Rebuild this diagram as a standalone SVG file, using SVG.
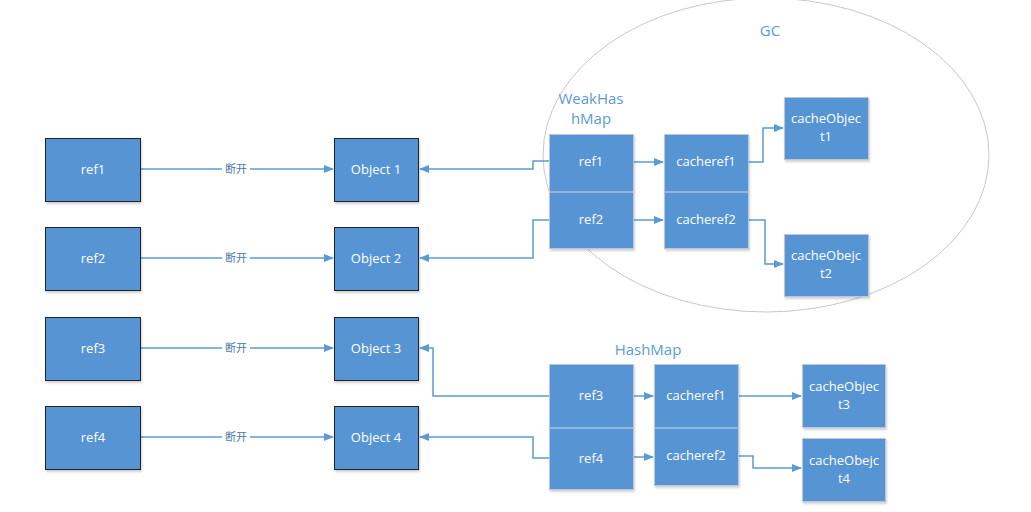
<svg xmlns="http://www.w3.org/2000/svg" width="1031" height="512" viewBox="0 0 1031 512">
<defs>
<style>
.b{fill:#5694d4;stroke:#222;stroke-width:1}
.r{fill:#5694d4;stroke:#b8c8d8;stroke-width:1}
.dv{stroke:#c9d9ea;stroke-width:1}
.t{fill:#fff;font-family:"Open Sans","Noto Sans",sans-serif;font-size:13px;text-anchor:middle}
.h{fill:#5b9bd5;font-family:"Open Sans","Noto Sans",sans-serif;font-size:15px;text-anchor:middle}
.c{fill:none;stroke:#5b9bd5;stroke-width:1.5}
.lb{fill:#4a78a8;font-family:"Noto Sans CJK SC",sans-serif;font-size:11px;text-anchor:middle}
</style>
<marker id="a" markerWidth="10" markerHeight="10" refX="9" refY="5" orient="auto" markerUnits="userSpaceOnUse">
<path d="M0,1 L10,5 L0,9 z" fill="#5b9bd5"/>
</marker>
<filter id="s" x="-10%" y="-10%" width="130%" height="130%"><feDropShadow dx="1" dy="2" stdDeviation="1.2" flood-color="#000" flood-opacity="0.18"/></filter>
</defs>
<rect width="1031" height="512" fill="#fff"/>
<g id="gc">
<ellipse cx="766" cy="155" rx="223" ry="157" fill="none" stroke="#c8c8c8" stroke-width="1"/>
<text class="h" x="770" y="36">GC</text>
</g>
<g id="connectors">
<line class="c" x1="141" y1="169" x2="333" y2="169" marker-end="url(#a)"/>
<line class="c" x1="141" y1="258" x2="333" y2="258" marker-end="url(#a)"/>
<line class="c" x1="141" y1="348" x2="333" y2="348" marker-end="url(#a)"/>
<line class="c" x1="141" y1="437" x2="333" y2="437" marker-end="url(#a)"/>
<polyline class="c" points="549,161 533,161 533,169 420,169" marker-end="url(#a)"/>
<polyline class="c" points="549,220 533,220 533,258 420,258" marker-end="url(#a)"/>
<polyline class="c" points="549,396 433,396 433,348 420,348" marker-end="url(#a)"/>
<polyline class="c" points="549,458 533,458 533,437 420,437" marker-end="url(#a)"/>
<line class="c" x1="633" y1="162" x2="663" y2="162" marker-end="url(#a)"/>
<line class="c" x1="633" y1="220" x2="663" y2="220" marker-end="url(#a)"/>
<polyline class="c" points="748,162 763,162 763,128 783,128" marker-end="url(#a)"/>
<polyline class="c" points="748,220 765,220 765,264 783,264" marker-end="url(#a)"/>
<line class="c" x1="633" y1="457" x2="653" y2="457" marker-end="url(#a)"/>
<line class="c" x1="633" y1="396" x2="653" y2="396" marker-end="url(#a)"/>
<line class="c" x1="738" y1="396" x2="801" y2="396" marker-end="url(#a)"/>
<polyline class="c" points="738,456 753,456 753,468 801,468" marker-end="url(#a)"/>
<g>
<rect x="222" y="162" width="28" height="14" fill="#fff"/>
<text class="lb" x="236" y="173">断开</text>
<rect x="222" y="251" width="28" height="14" fill="#fff"/>
<text class="lb" x="236" y="262">断开</text>
<rect x="222" y="341" width="28" height="14" fill="#fff"/>
<text class="lb" x="236" y="352">断开</text>
<rect x="222" y="430" width="28" height="14" fill="#fff"/>
<text class="lb" x="236" y="441">断开</text>
</g>
</g>
<g id="ref1"><rect class="b" x="45.5" y="138.5" width="95" height="63" filter="url(#s)"/><text class="t" x="93" y="174">ref1</text></g>
<g id="ref2"><rect class="b" x="45.5" y="227.5" width="95" height="63" filter="url(#s)"/><text class="t" x="93" y="263">ref2</text></g>
<g id="ref3"><rect class="b" x="45.5" y="317.5" width="95" height="63" filter="url(#s)"/><text class="t" x="93" y="353">ref3</text></g>
<g id="ref4"><rect class="b" x="45.5" y="406.5" width="95" height="63" filter="url(#s)"/><text class="t" x="93" y="442">ref4</text></g>
<g id="object1"><rect class="b" x="334.5" y="138.5" width="84" height="63" filter="url(#s)"/><text class="t" x="376" y="174">Object 1</text></g>
<g id="object2"><rect class="b" x="334.5" y="227.5" width="84" height="63" filter="url(#s)"/><text class="t" x="376" y="263">Object 2</text></g>
<g id="object3"><rect class="b" x="334.5" y="317.5" width="84" height="63" filter="url(#s)"/><text class="t" x="376" y="353">Object 3</text></g>
<g id="object4"><rect class="b" x="334.5" y="406.5" width="84" height="63" filter="url(#s)"/><text class="t" x="376" y="442">Object 4</text></g>
<g id="weakhashmap">
<text class="h" x="591" y="104">WeakHas</text>
<text class="h" x="591" y="124">hMap</text>
<rect class="r" x="549.5" y="134.5" width="84" height="114" filter="url(#s)"/>
<line class="dv" x1="550" y1="192" x2="633" y2="192"/>
<text class="t" x="591" y="166">ref1</text>
<text class="t" x="591" y="224">ref2</text>
</g>
<g id="weak-cacheref">
<rect class="r" x="664.5" y="134.5" width="84" height="114" filter="url(#s)"/>
<line class="dv" x1="665" y1="192" x2="748" y2="192"/>
<text class="t" x="706" y="166">cacheref1</text>
<text class="t" x="706" y="224">cacheref2</text>
</g>
<g id="cacheObject1"><rect class="r" x="784.5" y="97.5" width="84" height="62" filter="url(#s)"/><text class="t" x="826" y="123">cacheObjec</text><text class="t" x="826" y="141">t1</text></g>
<g id="cacheObject2"><rect class="r" x="784.5" y="234.5" width="84" height="62" filter="url(#s)"/><text class="t" x="826" y="260">cacheObejc</text><text class="t" x="826" y="278">t2</text></g>
<g id="hashmap">
<text class="h" x="648" y="355">HashMap</text>
<rect class="r" x="549.5" y="364.5" width="84" height="125" filter="url(#s)"/>
<line class="dv" x1="550" y1="428" x2="633" y2="428"/>
<text class="t" x="591" y="400">ref3</text>
<text class="t" x="591" y="463">ref4</text>
</g>
<g id="hash-cacheref">
<rect class="r" x="654.5" y="364.5" width="84" height="121" filter="url(#s)"/>
<line class="dv" x1="655" y1="428" x2="738" y2="428"/>
<text class="t" x="696" y="400">cacheref1</text>
<text class="t" x="696" y="460">cacheref2</text>
</g>
<g id="cacheObject3"><rect class="r" x="802.5" y="364.5" width="83" height="63" filter="url(#s)"/><text class="t" x="844" y="391">cacheObjec</text><text class="t" x="844" y="409">t3</text></g>
<g id="cacheObject4"><rect class="r" x="802.5" y="438.5" width="83" height="63" filter="url(#s)"/><text class="t" x="844" y="465">cacheObejc</text><text class="t" x="844" y="483">t4</text></g>
</svg>
